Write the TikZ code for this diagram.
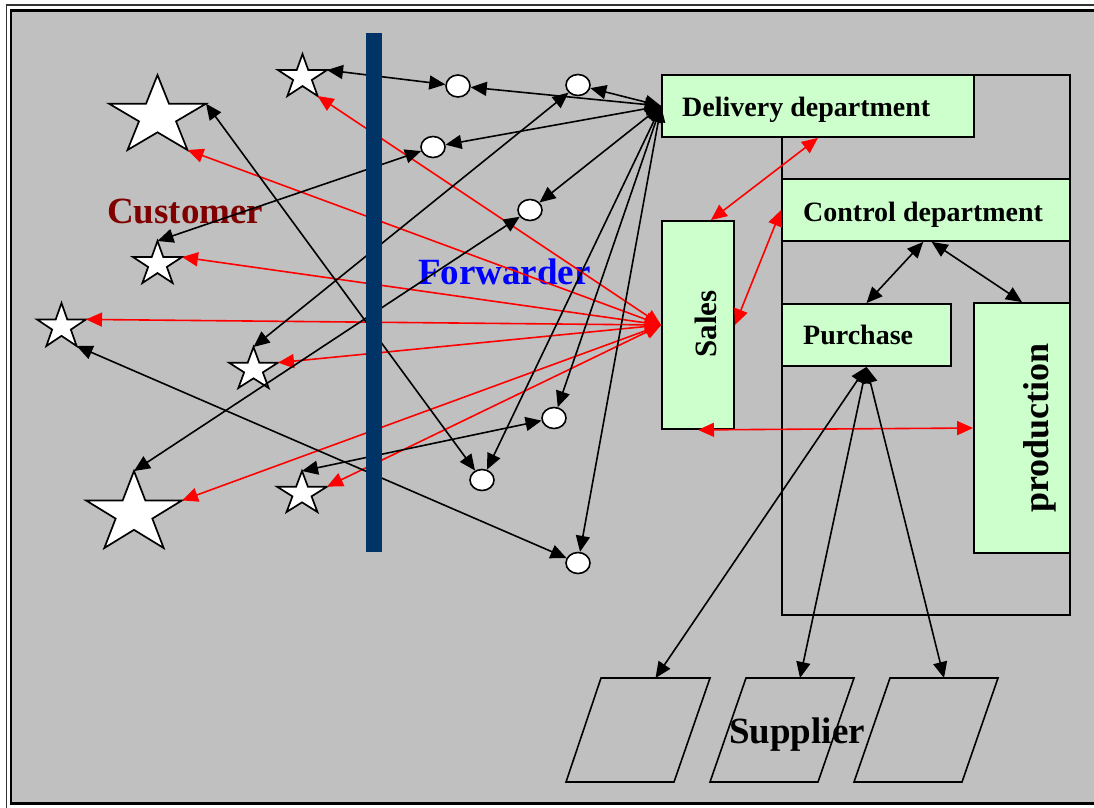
\documentclass[tikz,border=0pt]{standalone}
\usepackage{fontspec}
\setmainfont{Liberation Serif}
\usetikzlibrary{arrows.meta,shapes.geometric}
\definecolor{bggray}{RGB}{192,192,192}
\definecolor{boxgreen}{RGB}{204,255,204}
\definecolor{barblue}{RGB}{0,51,102}
\definecolor{custred}{RGB}{128,0,0}
\tikzset{
  box/.style={draw=black, fill=boxgreen, line width=1.8pt, rectangle, inner sep=0pt},
  oval/.style={draw=black, fill=white, line width=1.6pt, ellipse, minimum width=24pt, minimum height=21pt, inner sep=0pt},
  starline/.style={draw=black, fill=white, line width=1.7pt, line join=miter},
  supplierbox/.style={draw=black, line width=1.6pt, line join=miter},
  link/.style={draw=black, line width=1.6pt, {Triangle[length=16pt,width=14pt]}-{Triangle[length=16pt,width=14pt]}},
  redlink/.style={draw=red, line width=1.6pt, {Triangle[length=16pt,width=14pt]}-{Triangle[length=16pt,width=14pt]}},
  lbl/.style={font=\fontsize{28}{32}\selectfont\bfseries, inner sep=0pt},
  bigbl/.style={font=\fontsize{37}{42}\selectfont\bfseries, inner sep=0pt},
  % five-pointed star fitted in a W x H box, origin at the box's top-left corner
  pics/starshape/.style 2 args={code={
    \path[starline] (0.5*#1,0) -- (0.618*#1,0.382*#2) -- (#1,0.382*#2)
      -- (0.691*#1,0.618*#2) -- (0.809*#1,#2) -- (0.5*#1,0.764*#2)
      -- (0.191*#1,#2) -- (0.309*#1,0.618*#2) -- (0,0.382*#2)
      -- (0.382*#1,0.382*#2) -- cycle;
    \coordinate (-t) at (0.5*#1,0);
    \coordinate (-r) at (#1,0.382*#2);
    \coordinate (-br) at (0.809*#1,#2);
    \coordinate (-bl) at (0.191*#1,#2);
    \coordinate (-l) at (0,0.382*#2);
  }},
}
\begin{document}
\begin{tikzpicture}[x=1pt,y=-1pt]
\useasboundingbox (0,0) rectangle (1094,807);
% frame and background
\fill[white] (0,0) rectangle (1094,807);
\draw[line width=1.3pt, black!80] (6.5,5) rectangle (1120,830);
\filldraw[fill=bggray, draw=black, line width=2.4pt] (11,10.5) rectangle (1120,803.5);

% company outline
\draw[line width=1.8pt] (782,75) rectangle (1070,615);

% departments
\node[box, minimum width=312pt, minimum height=62pt] (Delivery) at (818,106) {};
\node[box, minimum width=288pt, minimum height=62pt] (Control) at (926,210) {};
\node[box, minimum width=72pt, minimum height=208pt] (Sales) at (698,325) {};
\node[box, minimum width=169pt, minimum height=62pt] (Purchase) at (866.5,335) {};
\node[box, minimum width=96pt, minimum height=250pt] (Production) at (1022,428) {};

\node[lbl, anchor=base west] (tDelivery) at (682,116) {Delivery department};
\node[lbl, anchor=base west] (tControl) at (803,221) {Control department};
\node[lbl, anchor=base west] (tPurchase) at (803,344) {Purchase};
\node[font=\fontsize{31}{34}\selectfont\bfseries, inner sep=0pt, rotate=90, anchor=base] (tSales) at (716,324) {Sales};
\node[font=\fontsize{36}{40}\selectfont\bfseries, inner sep=0pt, rotate=90, anchor=base] (tProduction) at (1048,428) {production};

% suppliers
\draw[supplierbox] (601,678) -- (710,678) -- (674,782) -- (566,782) -- cycle;
\draw[supplierbox] (746,678) -- (854,678) -- (818,782) -- (710,782) -- cycle;
\draw[supplierbox] (890,678) -- (998,678) -- (962,782) -- (854,782) -- cycle;
\coordinate (sup1) at (655.5,678);
\coordinate (sup2) at (800,678);
\coordinate (sup3) at (944,678);
\node[bigbl, anchor=base west] (tSupplier) at (729,743) {Supplier};

% group labels
\node[bigbl, text=custred, anchor=base west] (tCustomer) at (107,223) {Customer};
\node[bigbl, text=blue, anchor=base west] (tForwarder) at (418,284) {Forwarder};

% forwarder hubs
\node[oval, minimum height=22pt] (e1) at (458,86) {};
\node[oval] (e2) at (578,85) {};
\node[oval] (e3) at (433,147) {};
\node[oval] (e4) at (530,210) {};
\node[oval] (e5) at (554,418) {};
\node[oval] (e6) at (482,480) {};
\node[oval] (e7) at (578,563) {};

% customers
\pic (sA) at (109,75) {starshape={97}{75}};
\pic (sB) at (278,54) {starshape={49}{42}};
\pic (sC) at (133,241) {starshape={49}{42}};
\pic (sD) at (37,303) {starshape={49}{43}};
\pic (sE) at (229,347) {starshape={49}{41}};
\pic (sF) at (277,471) {starshape={50}{41}};
\pic (sG) at (86,471) {starshape={96}{77}};

% sales to customers
\draw[redlink] (Sales.west) -- (sB-br);
\draw[redlink] (Sales.west) -- (sA-br);
\draw[redlink] (Sales.west) -- (sC-r);
\draw[redlink] (Sales.west) -- (sD-r);
\draw[redlink] (Sales.west) -- (sE-r);
\draw[redlink] (Sales.west) -- (sF-r);
\draw[redlink] (Sales.west) -- (sG-r);

% internal flows
\draw[redlink] (Delivery.south) -- (Sales.83);
\draw[redlink] (Sales.east) -- (Control.west);
\draw[redlink] (Sales.south) -- (Production.west);
\draw[link] (Control.-95) -- (Purchase.north);
\draw[link] (Control.-80) -- (Production.north);
\draw[link] (Purchase.south) -- (sup1);
\draw[link] (Purchase.south) -- (sup2);
\draw[link] (Purchase.south) -- (sup3);

% delivery through forwarders
\draw[link] (e1) -- (Delivery.west);
\draw[link] (e2) -- (Delivery.west);
\draw[link] (e3) -- (Delivery.west);
\draw[link] (e4) -- (Delivery.west);
\draw[link] (Delivery.west) -- (e5);
\draw[link] (Delivery.west) -- (e6);
\draw[link] (Delivery.west) -- (e7);

% forwarders to customers
\draw[link] (sB-r) -- (e1);
\draw[link] (sC-t) -- (e3);
\draw[link] (sE-t) -- (e2);
\draw[link] (sG-t) -- (e4);
\draw[link] (sA-r) -- (e6);
\draw[link] (sD-br) -- (e7);
\draw[link] (sF-t) -- (e5);

% boundary bar
\node[fill=barblue, inner sep=0pt, minimum width=16pt, minimum height=519pt] (bar) at (374,292.5) {};
\end{tikzpicture}
\end{document}
